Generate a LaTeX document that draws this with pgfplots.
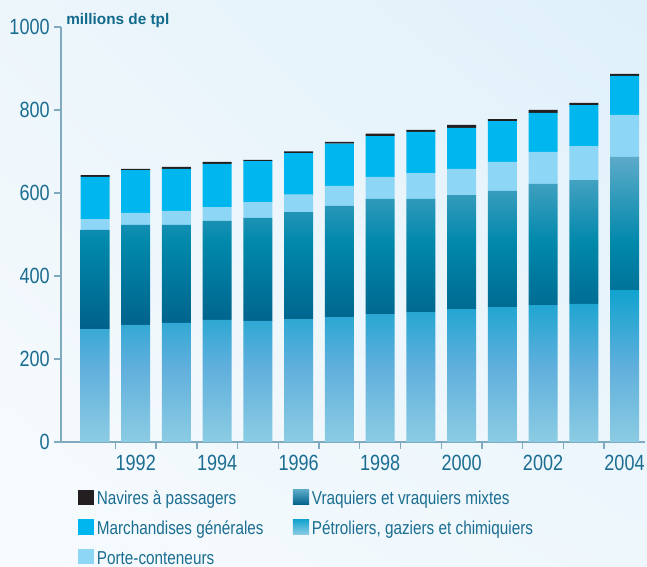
\documentclass[border=0pt]{standalone}
\usepackage{pgfplots}
\pgfplotsset{compat=1.18}
\usepackage{pgfplotstable}
\usetikzlibrary{shadings}
\usepackage{fontspec}
\setmainfont{Liberation Sans}[FakeStretch=0.82]
\newfontfamily\titlefont{Liberation Sans}
\definecolor{txt}{HTML}{1B6E91}
\definecolor{titlec}{HTML}{136B8C}
\definecolor{axcol}{HTML}{7FAAC0}
\definecolor{passc}{HTML}{231F20}
\definecolor{marchc}{HTML}{00B6EE}
\definecolor{portec}{HTML}{8DD6F6}
\definecolor{vraqT}{HTML}{5CAAC9}
\definecolor{vraqM}{HTML}{0088AB}
\definecolor{vraqB}{HTML}{00618A}
\definecolor{petT}{HTML}{12A3CF}
\definecolor{petM}{HTML}{5FAFDC}
\definecolor{petB}{HTML}{8CCCE3}
\definecolor{bgLL}{HTML}{F7FBFE}
\definecolor{bgLR}{HTML}{EEF7FC}
\definecolor{bgUL}{HTML}{EDF6FB}
\definecolor{bgUR}{HTML}{DFF0FA}

\pgfplotstableread{
year pet vraq porte march pass
1991 272 239 26 102 4
1992 282 241 29 103 3
1993 287 236 34 101 5
1994 294 239 33 104 5
1995 292 248 38 99 3
1996 296 258 42 100 4
1997 301 268 48 102 4
1998 308 278 53 98 6
1999 313 273 62 99 5
2000 320 275 63 99 7
2001 325 280 70 98 5
2002 330 292 77 94 7
2003 333 298 82 99 5
2004 366 321 101 94 5
}\flotte

\begin{document}
\begin{tikzpicture}
\shade[lower left=bgLL, lower right=bgLR, upper left=bgUL, upper right=bgUR]
  (-45.75pt,-93.75pt) rectangle (439.5pt,331.5pt);
\begin{axis}[
  at={(0,0)}, anchor=south west,
  scale only axis,
  width=438pt, height=311.25pt,
  xmin=1990.165, xmax=2004.503,
  ymin=0, ymax=1000,
  clip=false,
  ybar stacked,
  bar width=21.75pt,
  axis lines*=left,
  axis line style={axcol, line width=1.5pt},
  tick style={axcol, line width=1pt},
  tick align=outside,
  major tick length=5pt,
  ytick={0,200,...,1000},
  xtick={1991.5,1992.5,...,2003.5},
  xticklabels={},
  extra x ticks={1992,1994,...,2004},
  extra x tick style={major tick length=0pt,
    tick label style={yshift=-6.5pt}},
  /pgf/number format/1000 sep={},
  /pgf/number format/assume math mode=true,
  tick label style={font=\fontsize{16.5}{16.5}\selectfont, text=txt},
  legend columns=2,
  legend cell align=left,
  legend style={at={(axis description cs:0,0)}, anchor=north west,
    xshift=12.5pt, yshift=-35.5pt, draw=none, fill=none, inner sep=0pt,
    row sep=7.8pt, font=\fontsize{14}{14}\selectfont, text=txt,
    /tikz/every even column/.append style={column sep=20pt},
    nodes={inner xsep=2pt, inner ysep=0pt, text height=10pt, text depth=3pt}},
]
\addlegendimage{legend image code/.code={\path[fill=passc, draw=none] (0pt,-3.5pt) rectangle (12.2pt,8pt);}}
\addlegendentry{Navires à passagers}
\addlegendimage{legend image code/.code={\shade[draw=none, top color=vraqT, bottom color=vraqB] (0pt,-3.5pt) rectangle (12.2pt,8pt);}}
\addlegendentry{Vraquiers et vraquiers mixtes}
\addlegendimage{legend image code/.code={\path[fill=marchc, draw=none] (0pt,-3.5pt) rectangle (12.2pt,8pt);}}
\addlegendentry{Marchandises générales}
\addlegendimage{legend image code/.code={\shade[draw=none, top color=petT, bottom color=petB] (0pt,-3.5pt) rectangle (12.2pt,8pt);}}
\addlegendentry{Pétroliers, gaziers et chimiquiers}
\addlegendimage{legend image code/.code={\path[fill=portec, draw=none] (0pt,-3.5pt) rectangle (12.2pt,8pt);}}
\addlegendentry{Porte-conteneurs}

\addplot[draw=none, top color=petT, bottom color=petB, middle color=petM, forget plot]
  table[x=year, y=pet]{\flotte};
\addplot[draw=none, top color=vraqT, bottom color=vraqB, middle color=vraqM, forget plot]
  table[x=year, y=vraq]{\flotte};
\addplot[draw=none, fill=portec, forget plot] table[x=year, y=porte]{\flotte};
\addplot[draw=none, fill=marchc, forget plot] table[x=year, y=march]{\flotte};
\addplot[draw=none, fill=passc, forget plot] table[x=year, y=pass]{\flotte};

\node[anchor=base west, inner sep=0pt, text=titlec,
  font=\titlefont\bfseries\fontsize{11.5}{11.5}\selectfont]
  at (rel axis cs:0,1) [xshift=3.75pt, yshift=1.5pt] {millions de tpl};
\end{axis}
\pgfresetboundingbox
\path[use as bounding box] (-45.75pt,-93.75pt) rectangle (439.5pt,331.5pt);
\end{tikzpicture}
\end{document}
